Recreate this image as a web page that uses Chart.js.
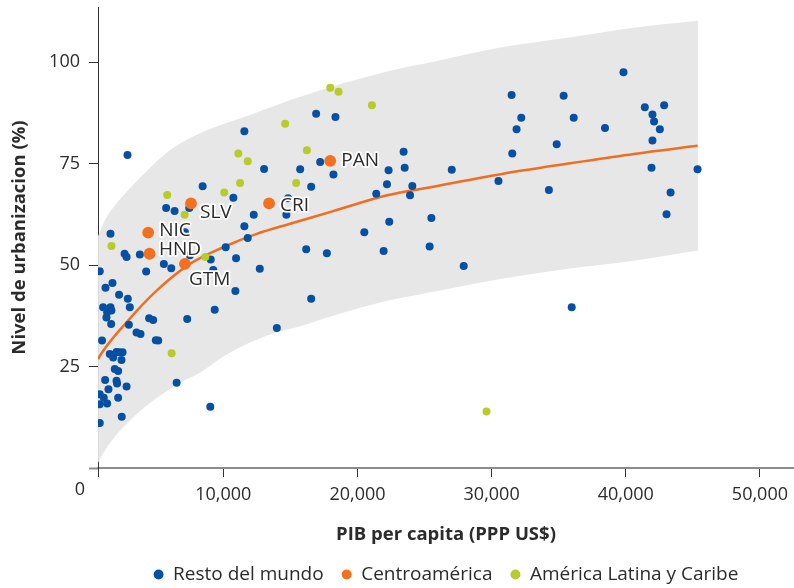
<!DOCTYPE html>
<html><head><meta charset="utf-8">
<script src="https://cdn.jsdelivr.net/npm/chart.js@4.4.1/dist/chart.umd.min.js"></script>
<style>html,body{margin:0;padding:0;background:#fff;overflow:hidden}#wrap{width:794px;height:588px}canvas{display:block}</style>
</head><body><div id="wrap"><canvas id="c" width="794" height="588"></canvas></div>
<script>
// ---- data ----
const xTicks = [10000, 20000, 30000, 40000, 50000];
const yTicks = [25, 50, 75, 100];
const seriesNames = ['Resto del mundo', 'Centroamérica', 'América Latina y Caribe'];

const restoMundo = [
  [2860,77.1],[1590,57.7],[2640,52.8],[2790,52.0],[3780,52.6],[790,48.5],[1220,44.4],[1740,45.6],
  [2230,42.7],[2880,41.7],[3030,39.6],[1040,39.6],[1590,39.6],[1660,38.8],[1340,38.4],[1290,37.1],
  [1640,35.5],[2960,35.3],[3530,33.4],[3830,33.0],[960,31.4],[1540,28.1],[1790,27.2],[2040,28.6],
  [2230,28.5],[2490,28.5],[2410,26.6],[1910,24.4],[2160,23.9],[1190,21.7],[2040,21.5],[2080,20.8],
  [2790,20.1],[1440,19.4],[790,18.2],[1090,17.3],[2160,17.3],[1340,15.9],[790,15.7],[2430,12.6],
  [790,11.1],
  [4250,48.4],[5570,50.3],[6120,49.2],[5740,64.1],[6370,63.3],[7140,58.1],[7510,52.4],[7460,64.1],
  [8460,69.4],[9060,51.4],[9250,48.8],[4470,36.9],[4770,36.5],[7310,36.7],[4970,31.5],[5150,31.4],
  [6520,21.0],[9360,39.0],[9030,15.1],
  [10750,66.6],[11570,83.0],[13040,73.7],[15730,73.6],[10180,54.4],[10950,51.7],[11820,56.7],
  [11570,59.6],[12270,62.4],[12720,49.1],[14700,62.4],[14830,66.5],[16180,53.9],[10900,43.6],
  [13990,34.5],[16920,87.3],[18360,86.5],[17220,75.4],[18210,72.3],[16550,69.3],[17720,52.9],
  [16550,41.7],
  [23440,77.9],[23520,74.0],[22320,73.4],[22200,69.9],[24090,69.5],[21400,67.6],[23920,67.2],
  [27030,73.5],[30510,70.7],[34270,68.5],[31490,91.9],[35370,91.7],[39830,97.5],[32210,86.3],
  [31860,83.5],[36120,86.3],[38450,83.8],[31540,77.5],[34850,79.8],[41420,88.9],[42860,89.4],
  [41990,87.1],[42110,85.4],[42540,83.5],[41990,80.7],[41920,74.0],[45350,73.6],[43340,67.9],
  [43040,62.5],[22370,60.7],[20510,58.1],[25510,61.6],[21950,53.5],[25380,54.6],[27920,49.8],
  [35970,39.6]
];
const centroamerica = [[4400,58.0],[4500,52.8],[7140,50.3],[7590,65.2],[13410,65.2],[17970,75.7]];
const centroLabels = ['NIC','HND','GTM','SLV','CRI','PAN'];
const latam = [
  [5820,67.3],[10070,67.9],[11250,70.2],[15430,70.2],[11120,77.5],[11820,75.6],[14610,84.8],
  [7120,62.4],[1660,54.7],[8660,52.0],[6150,28.3],[17970,93.7],[18590,92.7],[21080,89.4],
  [16230,78.3],[29620,13.9]
];
const ajuste = [
  [665,26.8],[790,27.6],[2790,35.9],[5030,43.7],[7510,50.3],[9980,54.4],[12490,57.7],[14980,60.2],
  [18190,63.3],[22200,67.2],[25440,69.2],[30660,72.4],[36110,75.2],[40600,77.4],[45350,79.4]
];
const bandaSup = [
  [665,57.1],[1165,61.0],[1912,64.7],[3027,68.9],[4520,73.9],[6019,78.3],[8260,82.5],[11994,87.0],
  [15728,91.5],[22449,97.9],[25661,100.1],[30664,103.6],[35668,106.0],[40597,108.5],[45377,110.2]
];
const bandaInf = [
  [665,1.3],[1292,4.9],[2285,9.1],[3779,14.0],[5272,17.8],[6766,21.0],[8260,23.5],[10126,27.7],
  [11994,30.9],[13860,33.3],[15728,34.9],[18192,37.5],[21702,40.8],[25436,43.3],[30664,46.6],
  [36116,49.3],[40597,51.1],[45377,53.6]
];

// ---- styling ----
const X_MIN = 660, X_MAX = 52540, Y_MAX = 113.6;
const TXT = '#2b2b2b';
const BLUE = '#0650a4', ORANGE = '#f3701f', GREEN = '#b7cb29';
const labelOffsets = [[11,-2],[9.5,-4],[4,16],[9,9],[11,2],[11,0]];
const toXY = a => a.map(p => ({x: p[0], y: p[1]}));

Chart.defaults.font.family = "'Open Sans', 'Noto Sans', sans-serif";
Chart.defaults.color = TXT;

const decor = {
  id: 'decor',
  afterDatasetsDraw(chart) {
    const ctx = chart.ctx;
    const meta = chart.getDatasetMeta(1);
    ctx.save();
    ctx.font = "19px 'Open Sans', sans-serif";
    ctx.textBaseline = 'middle';
    ctx.textAlign = 'left';
    ctx.lineJoin = 'round';
    meta.data.forEach((el, i) => {
      const o = labelOffsets[i];
      const x = el.x + o[0], y = el.y + o[1];
      ctx.strokeStyle = '#fff'; ctx.lineWidth = 3.5;
      ctx.strokeText(centroLabels[i], x, y);
      ctx.fillStyle = TXT;
      ctx.fillText(centroLabels[i], x, y);
    });
    ctx.restore();
  },
  afterDraw(chart) {
    const ctx = chart.ctx, ys = chart.scales.y, xs = chart.scales.x;
    ctx.save();
    ctx.font = "18px 'Open Sans', sans-serif";
    ctx.fillStyle = TXT;
    ctx.textAlign = 'center';
    ctx.textBaseline = 'middle';
    ctx.fillText('0', xs.left - 18, ys.getPixelForValue(0) + 22);
    ctx.restore();
  }
};

new Chart(document.getElementById('c'), {
  type: 'scatter',
  data: {
    datasets: [
      { label: seriesNames[0], data: toXY(restoMundo), backgroundColor: BLUE, borderColor: BLUE,
        pointRadius: 4, pointBorderWidth: 0, order: 2 },
      { label: seriesNames[1], data: toXY(centroamerica), backgroundColor: ORANGE, borderColor: ORANGE,
        pointRadius: 5.9, pointBorderWidth: 0, order: 0 },
      { label: seriesNames[2], data: toXY(latam), backgroundColor: GREEN, borderColor: GREEN,
        pointRadius: 4, pointBorderWidth: 0, order: 1 },
      { type: 'line', label: 'ajuste', data: toXY(ajuste), borderColor: '#f06e22', borderWidth: 2.5,
        pointRadius: 0, fill: false, cubicInterpolationMode: 'monotone', order: 3 },
      { type: 'line', label: 'sup', data: toXY(bandaSup), borderWidth: 0, borderColor: 'rgba(0,0,0,0)',
        backgroundColor: '#e7e7e7', pointRadius: 0, fill: 5, cubicInterpolationMode: 'monotone', order: 4 },
      { type: 'line', label: 'inf', data: toXY(bandaInf), borderWidth: 0, borderColor: 'rgba(0,0,0,0)',
        pointRadius: 0, fill: false, cubicInterpolationMode: 'monotone', order: 5 }
    ]
  },
  options: {
    responsive: false,
    animation: false,
    devicePixelRatio: 1,
    layout: { autoPadding: false, padding: { top: 7, left: 0, right: 0, bottom: 0 } },
    scales: {
      x: {
        type: 'linear', min: X_MIN, max: X_MAX,
        afterBuildTicks: s => { s.ticks = [X_MIN, ...xTicks].map(v => ({ value: v })); },
        ticks: { callback: v => v === X_MIN ? '' : v.toLocaleString('en-US'), font: { size: 18 },
                 color: TXT, padding: 7, maxRotation: 0, autoSkip: false },
        grid: { drawOnChartArea: false, drawTicks: true, tickLength: 9, tickColor: '#333', tickWidth: 1 },
        border: { display: true, color: '#8c8c8c', width: 2 },
        title: { display: true, text: 'PIB per capita (PPP US$)', font: { size: 18.5, weight: 'bold' },
                 color: TXT, padding: { top: 4, bottom: 1 } },
        afterFit: s => { s.height = 79; s.paddingLeft = 0; s.paddingRight = 0; }
      },
      y: {
        min: 0, max: Y_MAX,
        afterBuildTicks: s => { s.ticks = [0, ...yTicks].map(v => ({ value: v })); },
        ticks: { callback: v => v === 0 ? '' : String(v), font: { size: 18 }, color: TXT, padding: 9 },
        grid: { drawOnChartArea: false, tickLength: 9,
                tickColor: c => (c.tick && c.tick.value === 0) ? '#8c8c8c' : '#333',
                tickWidth: c => (c.tick && c.tick.value === 0) ? 2 : 1 },
        border: { display: true, color: '#333', width: 1 },
        title: { display: true, text: 'Nivel de urbanizacion (%)', font: { size: 18.5, weight: 'bold' },
                 color: TXT, padding: { top: 9, bottom: 0 } },
        afterFit: s => { s.width = 98; s.paddingTop = 0; s.paddingBottom = 0; }
      }
    },
    plugins: {
      tooltip: { enabled: false },
      legend: {
        position: 'bottom', fullSize: false, maxHeight: 41,
        labels: {
          usePointStyle: true, pointStyle: 'circle', boxWidth: 10, boxHeight: 7, padding: 18,
          font: { size: 19 }, color: TXT,
          filter: item => item.datasetIndex < 3,
          sort: (a, b) => a.datasetIndex - b.datasetIndex
        }
      }
    }
  },
  plugins: [decor]
});
</script>
</body></html>
